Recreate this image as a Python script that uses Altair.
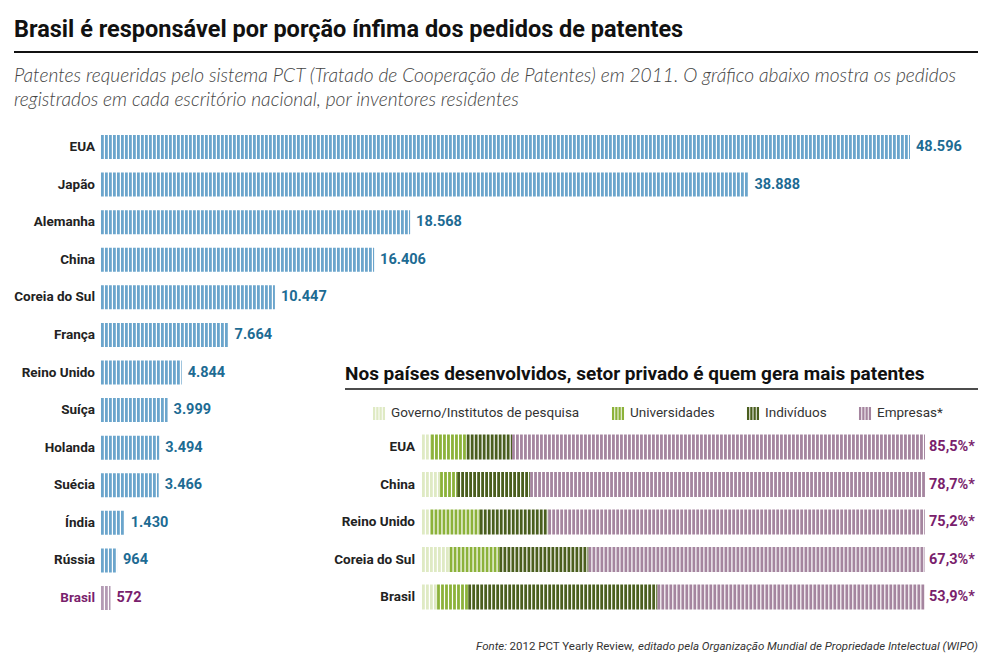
import altair as alt
import pandas as pd

# ---------------- data ----------------
paises = ["EUA", "Japão", "Alemanha", "China", "Coreia do Sul", "França", "Reino Unido",
          "Suíça", "Holanda", "Suécia", "Índia", "Rússia", "Brasil"]
pedidos = [48596, 38888, 18568, 16406, 10447, 7664, 4844, 3999, 3494, 3466, 1430, 964, 572]
rotulos_pedidos = ["48.596", "38.888", "18.568", "16.406", "10.447", "7.664", "4.844",
                   "3.999", "3.494", "3.466", "1.430", "964", "572"]

paises_setor = ["EUA", "China", "Reino Unido", "Coreia do Sul", "Brasil"]
setores = ["Governo/Institutos de pesquisa", "Universidades", "Indivíduos", "Empresas*"]
governo = [1.8, 3.6, 1.7, 5.5, 3.0]
universidades = [7.1, 3.4, 9.8, 9.9, 6.2]
individuos = [9.0, 14.5, 13.6, 17.7, 37.6]
empresas = [82.1, 78.5, 74.9, 66.9, 53.2]
rotulos_empresas = ["85,5%*", "78,7%*", "75,2%*", "67,3%*", "53,9%*"]

titulo = "Brasil é responsável por porção ínfima dos pedidos de patentes"
subtitulo = ["Patentes requeridas pelo sistema PCT (Tratado de Cooperação de Patentes) em 2011. O gráfico abaixo mostra os pedidos",
             "registrados em cada escritório nacional, por inventores residentes"]
titulo_inset = "Nos países desenvolvidos, setor privado é quem gera mais patentes"
fonte = ["Fonte:", "2012 PCT Yearly Review,", "editado pela Organização Mundial de Propriedade Intelectual (WIPO)"]

# ---------------- style ----------------
COND = "Roboto, sans-serif"
ITAL = "Lato, Open Sans, sans-serif"
BLUE = "#6ba5cc"
BLUE_TXT = "#1d6b93"
PURPLE_BAR = "#b49bb5"
PURPLE_TXT = "#7a1f6d"
CORES = ["#dfeac4", "#8cb23a", "#4a5e1e", "#a5859f"]
DASH = [2.8, 1.2]

W, H = 979, 656

df_main = pd.DataFrame({"pais": paises, "pedidos": pedidos, "rotulo": rotulos_pedidos})

rows = []
for i, p in enumerate(paises_setor):
    for j, (s, vals) in enumerate(zip(setores, [governo, universidades, individuos, empresas])):
        rows.append({"pais": p, "setor": s, "ordem": j, "pct": vals[i]})
df_set = pd.DataFrame(rows)
df_lab = pd.DataFrame({"pais": paises_setor, "rotulo": rotulos_empresas, "fim": [100] * len(paises_setor)})

# ---------------- main bars ----------------
xs = alt.Scale(domain=[0, 48596], range=[93, 902])
ys = alt.Scale(type="point", domain=paises, range=[139, 590], padding=0)

bars = alt.Chart(df_main).mark_rule(strokeWidth=24, strokeDash=DASH, strokeCap="butt").encode(
    x=alt.X("zero:Q", scale=xs, axis=None),
    x2="pedidos:Q",
    y=alt.Y("pais:N", scale=ys, axis=None),
    color=alt.condition(alt.datum.pais == "Brasil", alt.value(PURPLE_BAR), alt.value(BLUE)),
).transform_calculate(zero="0")

val_labels = alt.Chart(df_main).mark_text(align="left", baseline="middle", dx=6, font=COND,
                                          fontSize=14.5, fontWeight="bold").encode(
    x=alt.X("pedidos:Q", scale=xs, axis=None),
    y=alt.Y("pais:N", scale=ys, axis=None),
    text="rotulo:N",
    color=alt.condition(alt.datum.pais == "Brasil", alt.value(PURPLE_TXT), alt.value(BLUE_TXT)),
)

cat_labels = alt.Chart(df_main).mark_text(align="right", baseline="middle", font=COND,
                                          fontSize=13.5, fontWeight="bold").encode(
    x=alt.value(87),
    y=alt.Y("pais:N", scale=ys, axis=None),
    text="pais:N",
    color=alt.condition(alt.datum.pais == "Brasil", alt.value(PURPLE_TXT), alt.value("#222222")),
)

# ---------------- inset stacked bars ----------------
xs2 = alt.Scale(domain=[0, 100], range=[414, 917])
ys2 = alt.Scale(type="point", domain=paises_setor, range=[439, 589], padding=0)

sym_path = "M-0.75,-1V1M-0.25,-1V1M0.25,-1V1M0.75,-1V1"

stack = alt.Chart(df_set).transform_stack(
    stack="pct", as_=["x0", "x1"], groupby=["pais"], sort=[alt.SortField("ordem")]
).mark_rule(strokeWidth=25, strokeDash=DASH, strokeCap="butt").encode(
    x=alt.X("x0:Q", scale=xs2, axis=None),
    x2="x1:Q",
    y=alt.Y("pais:N", scale=ys2, axis=None),
    color=alt.Color("setor:N", scale=alt.Scale(domain=setores, range=CORES),
                    legend=alt.Legend(orient="none", legendX=363, legendY=397, direction="horizontal",
                                      title=None, symbolType=sym_path, symbolSize=169,
                                      symbolStrokeWidth=2.3, symbolDash=[100, 0],
                                      labelFont=COND, labelFontSize=13.5, labelColor="#333333",
                                      labelLimit=0, labelOffset=4, columnPadding=28,
                                      symbolOpacity=1)),
)

stack_cat = alt.Chart(df_lab).mark_text(align="right", baseline="middle", font=COND,
                                        fontSize=13.5, fontWeight="bold", color="#222222").encode(
    x=alt.value(407),
    y=alt.Y("pais:N", scale=ys2, axis=None),
    text="pais:N",
)

stack_val = alt.Chart(df_lab).mark_text(align="left", baseline="middle", dx=4, font=COND,
                                        fontSize=14.5, fontWeight="bold", color=PURPLE_TXT).encode(
    x=alt.X("fim:Q", scale=xs2, axis=None),
    y=alt.Y("pais:N", scale=ys2, axis=None),
    text="rotulo:N",
)

# ---------------- annotations ----------------
def txt(s, x, y, **kw):
    return alt.Chart(pd.DataFrame({"t": [s]})).mark_text(**kw).encode(
        x=alt.value(x), y=alt.value(y), text="t:N")

def hline(x1, x2, y, w):
    return alt.Chart(pd.DataFrame({"a": [0]})).mark_rule(color="#111111", strokeWidth=w).encode(
        x=alt.value(x1), x2=alt.value(x2), y=alt.value(y))

t_title = txt(titulo, 6, 29, align="left", baseline="alphabetic", font=COND, fontSize=23.5,
              fontWeight="bold", color="#111111")
t_sub1 = txt(subtitulo[0], 6, 74, align="left", baseline="alphabetic", font=ITAL, fontSize=19.2,
             fontStyle="italic", fontWeight=300, color="#444444")
t_sub2 = txt(subtitulo[1], 6, 98, align="left", baseline="alphabetic", font=ITAL, fontSize=19.2,
             fontStyle="italic", fontWeight=300, color="#444444")
t_inset = txt(titulo_inset, 337, 372, align="left", baseline="alphabetic", font=COND, fontSize=19,
              fontWeight="bold", color="#111111")
t_f1 = txt(fonte[0], 499, 642, align="right", baseline="alphabetic", font=COND, fontSize=11.5,
           fontStyle="italic", color="#333333")
t_f2 = txt(fonte[1], 626, 642, align="right", baseline="alphabetic", font=COND, fontSize=11.5,
           color="#333333")
t_f3 = txt(fonte[2], 970, 642, align="right", baseline="alphabetic", font=COND, fontSize=11.5,
           fontStyle="italic", color="#333333")

chart = alt.layer(
    bars, val_labels, cat_labels,
    stack, stack_cat, stack_val,
    t_title, hline(6, 970, 44, 2), t_sub1, t_sub2,
    t_inset, hline(337, 970, 381, 1.5),
    t_f1, t_f2, t_f3,
).resolve_scale(x="independent", y="independent", color="independent").properties(
    width=W, height=H, autosize=alt.AutoSizeParams(type="none"), padding=0, background="white"
).configure_view(stroke=None)

chart.save("out.html", embed_options={"renderer": "svg", "actions": False})
